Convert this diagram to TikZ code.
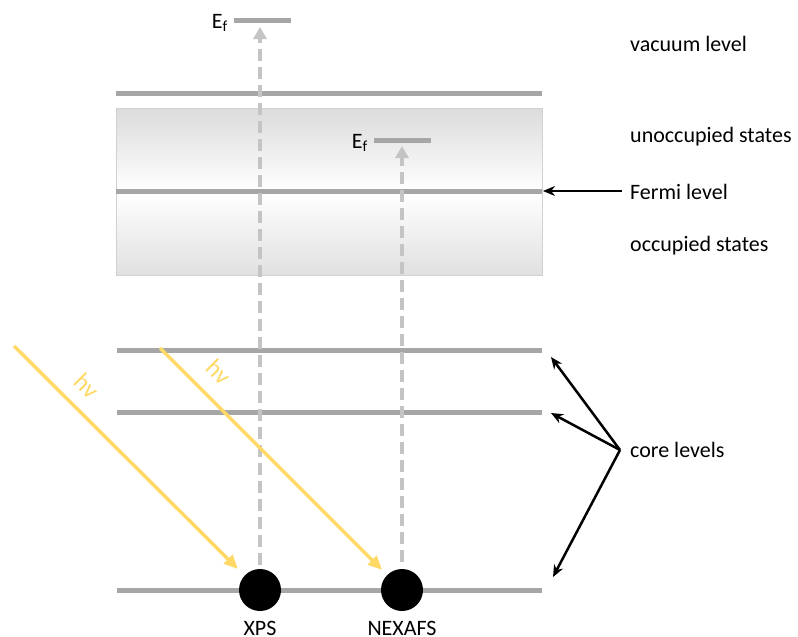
\documentclass[tikz,border=0pt]{standalone}
\usepackage{fontspec}
\setmainfont{Carlito}
\usetikzlibrary{arrows.meta}
\definecolor{lvl}{HTML}{A6A6A6}
\definecolor{dsh}{HTML}{C4C4C4}
\definecolor{yel}{HTML}{FFD966}
\tikzset{
  level/.style={draw=lvl, line width=5pt},
  ephot/.style={draw=dsh, line width=4pt, dash pattern=on 12pt off 6pt, -{Triangle[width=13pt,length=12pt]}},
  photon/.style={draw=yel, line width=3.5pt, -{Triangle[width=12pt,length=14pt]}},
  pointer/.style={draw=black, line width=2.5pt, -{Stealth[width=10pt,length=12pt]}},
  lbl/.style={font=\fontsize{22}{26}\selectfont, text=black, inner sep=0pt},
  rlbl/.style={lbl, anchor=west},
  hvlbl/.style={font=\fontsize{25}{30}\selectfont, text=yel, inner sep=0pt, rotate=-45},
  dot/.style={circle, fill=black, minimum size=42pt, inner sep=0pt}
}
\begin{document}
\begin{tikzpicture}[x=1pt,y=-1pt]
\useasboundingbox (0,0) rectangle (798,637);
% band box
\shade[top color=black!14, bottom color=black!12, middle color=white] (116,108) rectangle (542,275);
\draw[draw=black!18, line width=1pt] (116,108) rectangle (542,275);
% levels
\coordinate (vacL) at (116,93); \coordinate (vacR) at (542,93);
\coordinate (ferL) at (116,191); \coordinate (ferR) at (542,191);
\coordinate (c1L) at (117,350); \coordinate (c1R) at (542,350);
\coordinate (c2L) at (117,412); \coordinate (c2R) at (542,412);
\coordinate (c3L) at (117,590); \coordinate (c3R) at (542,590);
\draw[level] (vacL) -- (vacR);
\draw[level] (ferL) -- (ferR);
\draw[level] (c1L) -- (c1R);
\draw[level] (c2L) -- (c2R);
\draw[level] (c3L) -- (c3R);
% final states
\coordinate (ef1L) at (234,20); \coordinate (ef1R) at (291,20);
\coordinate (ef2L) at (374,140); \coordinate (ef2R) at (431,140);
\draw[level] (ef1L) -- (ef1R);
\draw[level] (ef2L) -- (ef2R);
\node[lbl, anchor=east] (ef1) at (228,23) {E\textsubscript{f}};
\node[lbl, anchor=east] (ef2) at (368,143) {E\textsubscript{f}};
% electrons
\node[dot] (xps) at (260,590) {};
\node[dot] (nex) at (402,590) {};
\coordinate (xpsS) at (260,565); \coordinate (xpsE) at (260,27);
\coordinate (nexS) at (402,562); \coordinate (nexE) at (402,146);
\draw[ephot] (xpsS) -- (xpsE);
\draw[ephot] (nexS) -- (nexE);
\node[lbl, anchor=base] (xpsl) at (260,635) {XPS};
\node[lbl, anchor=base] (nexl) at (402,635) {NEXAFS};
% photons
\coordinate (p1) at (14,346); \coordinate (p1e) at (238,569);
\coordinate (p2) at (160,348); \coordinate (p2e) at (382,570);
\draw[photon] (p1) -- (p1e);
\draw[photon] (p2) -- (p2e);
\node[hvlbl] (hv1) at (87,386) {hv};
\node[hvlbl] (hv2) at (219,372) {hv};
% right labels
\node[rlbl] (vac) at (630,44) {vacuum level};
\node[rlbl] (unocc) at (630,137) {unoccupied states};
\node[rlbl] (fermi) at (630,192) {Fermi level};
\node[rlbl] (occ) at (630,246) {occupied states};
\node[rlbl] (core) at (630,450) {core levels};
\coordinate (fa) at (622,191); \coordinate (fb) at (543,191);
\draw[pointer] (fa) -- (fb);
\coordinate (cp) at (620,450);
\coordinate (ct1) at (551,357); \coordinate (ct2) at (551,413); \coordinate (ct3) at (553,577);
\draw[pointer] (cp) -- (ct1);
\draw[pointer] (cp) -- (ct2);
\draw[pointer] (cp) -- (ct3);
\end{tikzpicture}
\end{document}
